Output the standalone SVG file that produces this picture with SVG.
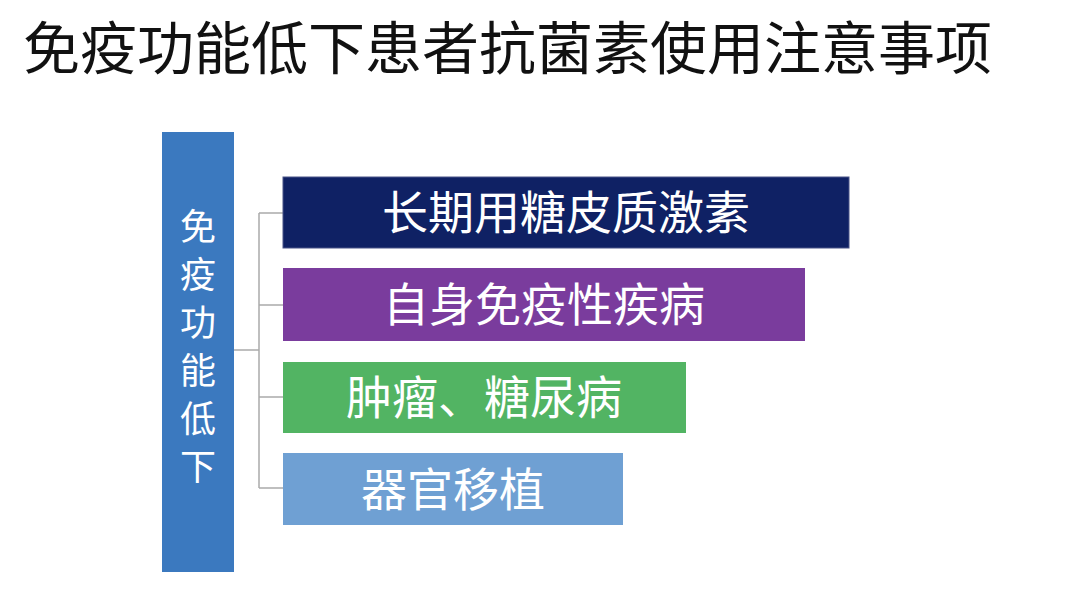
<svg xmlns="http://www.w3.org/2000/svg" width="1072" height="614" viewBox="0 0 1072 614">
<style>
.t{font-family:"Noto Sans CJK SC","Noto Sans",sans-serif;}
.title{font-size:57px;fill:#111;}
.lbl{font-size:46px;fill:#fff;text-anchor:middle;}
.vl{font-size:36px;fill:#fff;text-anchor:middle;}
.conn{stroke:#ababab;stroke-width:1.5;fill:none;}
</style>
<rect x="0" y="0" width="1072" height="614" fill="#ffffff"/>
<text class="t title" x="23" y="69">免疫功能低下患者抗菌素使用注意事项</text>
<g id="root">
<rect x="162" y="132" width="72" height="440" fill="#3B79BF"/>
<text class="t vl" x="198" y="240">免</text>
<text class="t vl" x="198" y="288">疫</text>
<text class="t vl" x="198" y="336">功</text>
<text class="t vl" x="198" y="384">能</text>
<text class="t vl" x="198" y="432">低</text>
<text class="t vl" x="198" y="480">下</text>
</g>
<g id="connectors">
<path class="conn" d="M234 350 H259 M259 213 V488 M259 213 H283 M259 305 H283 M259 397 H283 M259 488 H283"/>
</g>
<g id="n1">
<rect x="283" y="177" width="566" height="71" fill="#0F2164" stroke="#4a5488" stroke-width="1"/>
<text class="t lbl" x="566" y="229">长期用糖皮质激素</text>
</g>
<g id="n2">
<rect x="283" y="268" width="522" height="73" fill="#7A3C9D"/>
<text class="t lbl" x="544" y="321">自身免疫性疾病</text>
</g>
<g id="n3">
<rect x="283" y="362" width="403" height="71" fill="#52B463"/>
<text class="t lbl" x="484" y="414">肿瘤、糖尿病</text>
</g>
<g id="n4">
<rect x="283" y="453" width="340" height="72" fill="#6FA0D3"/>
<text class="t lbl" x="453" y="506">器官移植</text>
</g>
</svg>
